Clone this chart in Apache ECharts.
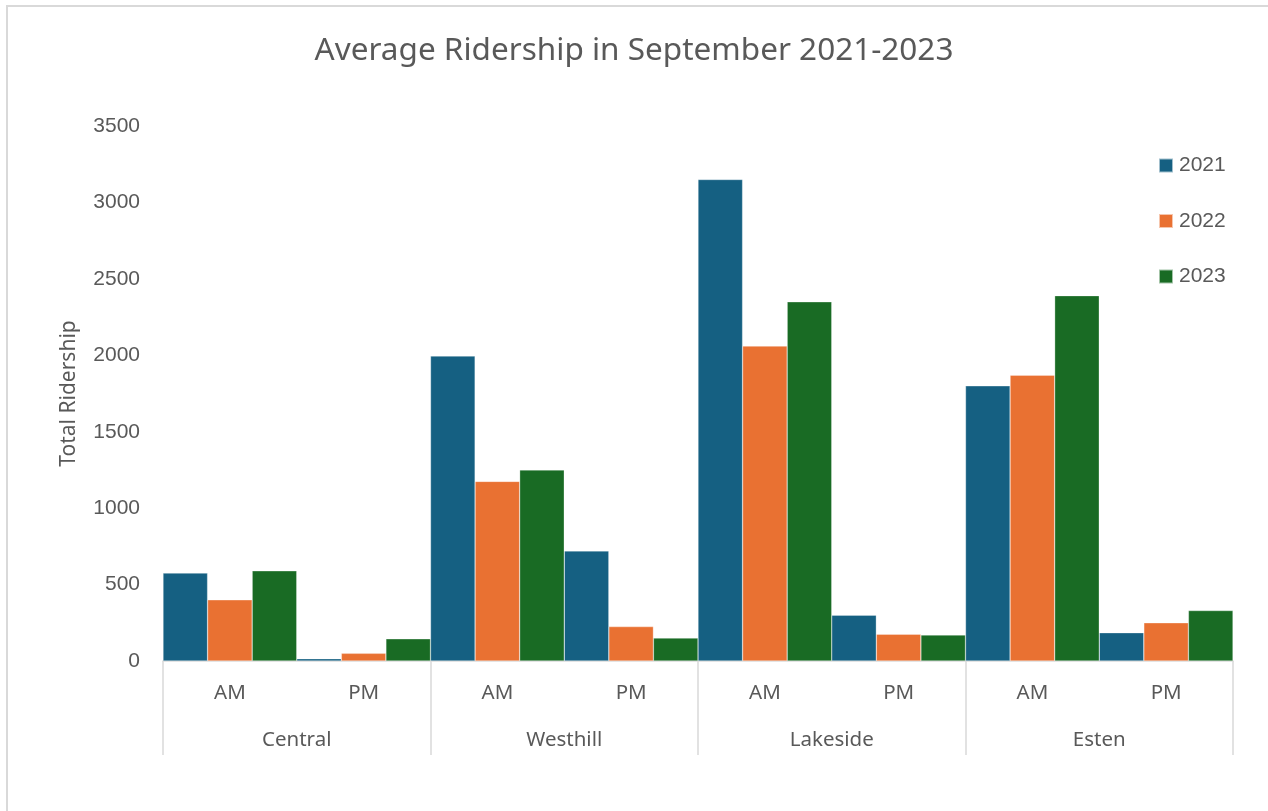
<!DOCTYPE html>
<html>
<head>
<meta charset="utf-8">
<script src="https://cdn.jsdelivr.net/npm/echarts@6/dist/echarts.min.js"></script>
<style>
  html, body { margin: 0; padding: 0; background: #fff; }
  #chart { width: 1268px; height: 811px; }
  #frame { position: absolute; left: 6px; top: 5px; width: 1400px; height: 900px;
           border-left: 2px solid #d9d9d9; border-top: 2px solid #d9d9d9; pointer-events: none; }
</style>
</head>
<body>
<div id="chart"></div>
<div id="frame"></div>
<script>
// time slots per station, and stations
const slots = ['AM', 'PM', 'AM', 'PM', 'AM', 'PM', 'AM', 'PM'];
const stations = ['Central', 'Westhill', 'Lakeside', 'Esten'];
const years = ['2021', '2022', '2023'];

// ridership per slot (Central AM, Central PM, Westhill AM, ...)
const data2021 = [575, 15, 1995, 720, 3150, 300, 1800, 185];
const data2022 = [400, 50, 1175, 225, 2060, 175, 1870, 250];
const data2023 = [590, 145, 1250, 150, 2350, 170, 2390, 330];

const yTicks = { min: 0, max: 3500, interval: 500 };

const colors = ['#156082', '#E97132', '#196B24'];
const textColor = '#595959';
const lineColor = '#d9d9d9';

const chart = echarts.init(document.getElementById('chart'));

const makeBar = (name, values, color) => ({
    name: name,
    type: 'bar',
    xAxisIndex: 0,
    data: values,
    barGap: '0%',
    barCategoryGap: '0%',
    itemStyle: {
        color: color,
        borderColor: 'rgba(255,255,255,0.6)',
        borderWidth: 0.5
    }
});

chart.setOption({
    animation: false,
    color: colors,
    title: {
        text: 'Average Ridership in September 2021-2023',
        left: 'center',
        top: 35,
        padding: 0,
        textStyle: {
            fontFamily: '"Noto Sans", sans-serif',
            fontSize: 31.5,
            fontWeight: 'normal',
            color: textColor
        }
    },
    legend: {
        orient: 'vertical',
        left: 1158,
        top: 155,
        padding: 0,
        itemWidth: 14,
        itemHeight: 14,
        itemGap: 34.5,
        icon: 'rect',
        data: years,
        textStyle: {
            fontFamily: '"Liberation Sans", Arial, sans-serif',
            fontSize: 21,
            color: textColor,
            padding: [0, 0, 0, 1]
        }
    },
    grid: {
        left: 163,
        right: 35,
        top: 126,
        bottom: 150,
        containLabel: false
    },
    xAxis: [
        {
            type: 'category',
            data: slots,
            position: 'bottom',
            axisLine: { show: true, lineStyle: { color: lineColor, width: 1.5 } },
            axisTick: { show: false },
            axisLabel: {
                margin: 22,
                fontFamily: '"Noto Sans", sans-serif',
                fontSize: 20.5,
                color: textColor
            }
        },
        {
            type: 'category',
            data: stations,
            position: 'bottom',
            axisLine: { show: false },
            axisTick: { show: true, length: 94, lineStyle: { color: lineColor, width: 1.5 } },
            axisLabel: {
                margin: 69,
                fontFamily: '"Noto Sans", sans-serif',
                fontSize: 20.5,
                color: textColor
            }
        }
    ],
    yAxis: {
        type: 'value',
        min: yTicks.min,
        max: yTicks.max,
        interval: yTicks.interval,
        name: 'Total Ridership',
        nameLocation: 'middle',
        nameGap: 83,
        nameTextStyle: {
            fontFamily: '"Noto Sans", sans-serif',
            fontSize: 21,
            color: textColor
        },
        axisLine: { show: false },
        axisTick: { show: false },
        splitLine: { show: false },
        axisLabel: {
            margin: 23,
            formatter: (v) => String(v),
            fontFamily: '"Liberation Sans", Arial, sans-serif',
            fontSize: 21,
            color: textColor
        }
    },
    series: [
        makeBar(years[0], data2021, colors[0]),
        makeBar(years[1], data2022, colors[1]),
        makeBar(years[2], data2023, colors[2])
    ]
});
</script>
</body>
</html>
